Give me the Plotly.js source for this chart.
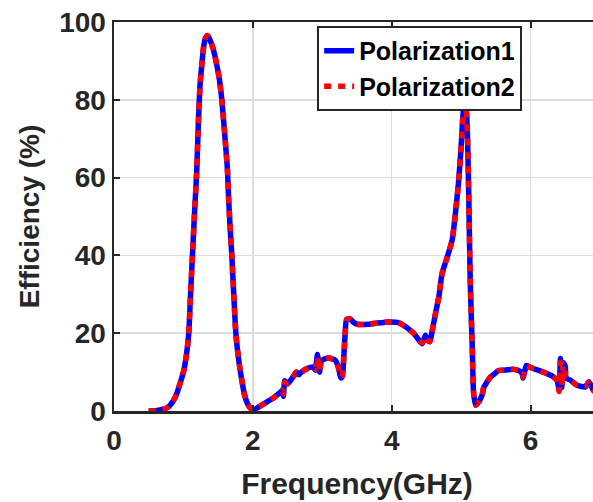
<!DOCTYPE html>
<html>
<head>
<meta charset="utf-8">
<script src="https://cdn.plot.ly/plotly-3.0.1.min.js"></script>
<style>
html,body{margin:0;padding:0;background:#fff;overflow:hidden;width:593px;height:502px;}
#chart{width:600px;height:502px;}
</style>
</head>
<body>
<div id="chart"></div>
<script>
// Frequency (GHz)
const freq = [0.5,0.6,0.7,0.78,0.85,0.9,0.95,1.0,1.04,1.077,1.1,1.13,1.16,1.19,1.215,1.24,1.265,1.29,1.32,1.35,1.38,1.43,1.48,1.52,1.553,1.6,1.634,1.65,1.67,1.697,1.725,1.755,1.79,1.817,1.85,1.875,1.92,1.97,2.01,
  2.1,2.2,2.3,2.38,2.42,2.44,2.46,2.5,2.58,2.63,2.66,2.7,2.78,2.87,2.9,2.93,2.96,2.99,3.09,3.19,3.23,3.27,3.29,3.31,3.33,3.35,3.4,3.45,3.5,3.67,3.79,3.98,4.1,4.17,4.25,4.32,4.38,4.44,4.485,4.52,4.55,4.58,4.63,4.68,4.725,4.8,4.87,4.917,4.965,5.0,5.037,5.06,5.08,5.095,5.11,5.13,5.16,5.18,5.21,5.23,5.3,5.325,5.42,5.47,5.54,5.61,5.76,5.85,5.88,5.89,5.92,5.94,6.0,6.14,6.29,6.38,6.41,6.43,6.45,6.47,6.5,6.51,6.575,6.67,6.79,6.84,6.91,6.98];
// Efficiency (%) – Polarization1
const pol1 = [0,0.1,0.4,1,2.5,4.3,7,10,14,20,29,40,51,61,74,84,89,93.5,96,96.5,95.5,93,89,85,80,70,62,55,48,40,30,20,14,10.5,7,4.5,2,0.6,0.3,
  1.2,2.3,3.4,4.6,5.2,3.8,7.8,7,8.8,10,9.3,10,10.9,11.3,10.5,14.5,10,13,13.6,13,11.3,8.5,9,14,20,23.5,23.7,22.8,22.3,22.3,22.6,22.9,22.7,22,21,19.9,18.5,17.3,19.5,18.2,17.8,20.3,25,29.5,35.3,39.6,43.9,50.7,59.3,68,78,79,76,68,55,34,16.5,4.5,1.5,1.8,4,6,8.7,9.4,10.4,10.5,10.7,10.2,9.6,8.5,10.5,11.7,11.2,10.3,9.2,7.9,5.5,13.5,6,12.5,11.5,8.5,7.9,6.6,6.2,7.5,5.2,5];
// Efficiency (%) – Polarization2
const pol2 = [0,0.1,0.4,1,2.5,4.3,7,10,14,20,29,40,51,61,74,84,89,93.5,96,96.5,95.5,93,89,85,80,70,62,55,48,40,30,20,14,10.5,7,4.5,2,0.6,0.3,
  1.2,2.3,3.4,4.6,5.4,4.4,7.4,7,8.8,10,9.5,10,10.9,11.3,10.7,13.8,10.4,13,13.6,13,11.3,8.7,9.2,14,20,23.5,23.7,22.8,22.3,22.3,22.6,22.9,22.7,22,21,19.9,18.5,17.5,19.2,18.2,17.9,20.3,25,29.5,35.3,39.6,43.9,50.7,59.3,68,78,79,76,68,55,34,16.5,4.5,1.5,1.8,4,6,8.7,9.4,10.4,10.5,10.7,10.2,9.6,8.8,10.5,11.5,11.2,10.3,9.2,7.9,5,12.5,6.5,12,11.5,8.8,7.9,6.6,6.2,7.3,5.2,5];

const xTicks = [0,2,4,6];
const yTicks = [0,20,40,60,80,100];

const ink = '#262626';
const traces = [
  {x: freq, y: pol1, name: 'Polarization1', type: 'scatter', mode: 'lines',
   line: {color: '#0000ff', width: 5.5, shape: 'spline', smoothing: 0.6}},
  {x: freq, y: pol2, name: 'Polarization2', type: 'scatter', mode: 'lines',
   line: {color: '#ff0000', width: 5.5, dash: '7px,7px', shape: 'spline', smoothing: 0.6}}
];

const axisCommon = {
  showline: true, linecolor: ink, linewidth: 2.5, mirror: 'ticks',
  ticks: 'inside', ticklen: 6, tickwidth: 2, tickcolor: ink,
  showgrid: true, gridcolor: '#dddddd', gridwidth: 1.5,
  zeroline: false,
  tickfont: {family: 'Liberation Sans, Arial, sans-serif', size: 28, color: ink, weight: 'bold'}
};

const layout = {
  width: 600, height: 502,
  margin: {l: 114, r: 0, t: 22, b: 91},
  paper_bgcolor: '#ffffff', plot_bgcolor: '#ffffff',
  showlegend: true,
  xaxis: Object.assign({}, axisCommon, {
    range: [0, 7], tickmode: 'array', tickvals: xTicks, ticktext: xTicks.map(String),
    ticklabelstandoff: 3,
    title: {text: 'Frequency(GHz)', standoff: 18,
            font: {family: 'Liberation Sans, Arial, sans-serif', size: 30, color: ink, weight: 'bold'}}
  }),
  yaxis: Object.assign({}, axisCommon, {
    range: [0, 100], tickmode: 'array', tickvals: yTicks, ticktext: yTicks.map(String),
    title: {text: 'Efficiency (%)', standoff: 12,
            font: {family: 'Liberation Sans, Arial, sans-serif', size: 28, color: ink, weight: 'bold'}}
  }),
  legend: {
    x: 0.418, y: 0.99, xanchor: 'left', yanchor: 'top',
    bgcolor: '#ffffff', bordercolor: ink, borderwidth: 2,
    font: {family: 'Liberation Sans, Arial, sans-serif', size: 25, color: '#000000', weight: 'bold'},
    tracegroupgap: 0
  }
};

Plotly.newPlot('chart', traces, layout, {displayModeBar: false, staticPlot: true});
</script>
</body>
</html>
